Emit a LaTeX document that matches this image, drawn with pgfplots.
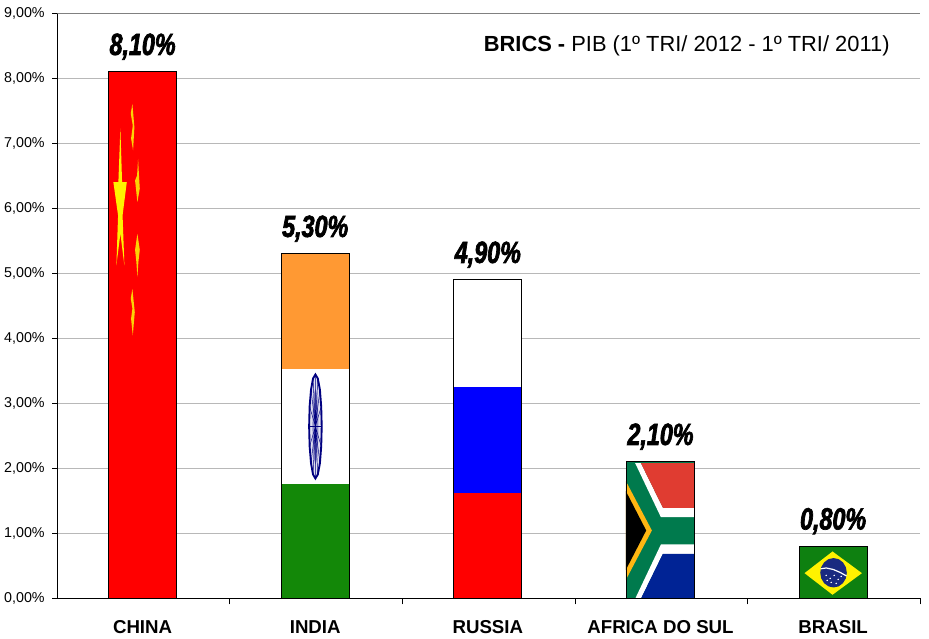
\documentclass[border=0pt]{standalone}
\usepackage{fontspec}
\setmainfont{Liberation Sans}
\newfontfamily\impactfont[FakeStretch=0.76,FakeBold=2.2]{Liberation Sans}
\usepackage{pgfplots}
\pgfplotsset{compat=1.18}
\definecolor{gridc}{HTML}{B8B8B8}
\definecolor{indorange}{HTML}{FF9933}
\definecolor{indgreen}{HTML}{138808}
\definecolor{indnavy}{HTML}{000080}
\definecolor{rusblue}{HTML}{0000FF}
\definecolor{zared}{HTML}{E03C31}
\definecolor{zablue}{HTML}{002395}
\definecolor{zagreen}{HTML}{007A4D}
\definecolor{zagold}{HTML}{FFB612}
\definecolor{brgreen}{HTML}{0E8010}
\definecolor{brnavy}{HTML}{1A2A80}
\pgfplotsset{
  seg/.style={ybar,bar width=51pt,bar shift=0pt,draw=none,fill=#1},
  flag/.style={x filter/.expression={(x-142.5)/172.6},y filter/.expression={(598-y)/65},fill=#1,draw=none},
}
\begin{document}
\begin{tikzpicture}
\path[use as bounding box] (0,0) rectangle (696.75pt,479.25pt);
\begin{axis}[
  at={(42.975pt,30.4pt)},anchor=south west,
  scale only axis,width=647.25pt,height=438.75pt,
  xmin=-0.494,xmax=4.505,ymin=0,ymax=9,
  axis x line*=bottom,axis y line*=left,axis line style={-,black,line width=0.75pt},
  /pgf/number format/assume math mode=true,
  ytick={0,1,...,9},
  yticklabel={\pgfmathprintnumber[fixed,fixed zerofill,precision=2,use comma]{\tick}\%},
  yticklabel style={font=\fontsize{10.7}{12}\selectfont,xshift=-2.2pt},
  ymajorgrids,grid style={gridc,line width=0.75pt},
  tick align=outside,
  ytick style={black,line width=0.7pt},
  major tick length=3.75pt,
  xtick={0,1,2,3,4},
  xticklabels={CHINA,INDIA,RUSSIA,AFRICA DO SUL,BRASIL},
  xticklabel style={font=\fontsize{14}{16}\selectfont\bfseries,yshift=-22.5pt,anchor=base,text height=0pt},
  major x tick style={draw=none},
  minor xtick={0.505,1.505,2.505,3.505,4.505},
  minor x tick style={draw=black,line width=0.7pt},
  minor tick length=4.5pt,
]
% top border line
\addplot[color=gray,line width=0.75pt] coordinates {(-0.494,9)(4.505,9)};

% China
\addplot[seg=red] coordinates {(0,8.1)};
\addplot[flag=yellow] coordinates {(120.3,128)(122,181.7)(126.7,181.7)(122.5,215)(124.3,265)(120.3,233)(116.3,265)(118,215)(113.3,181.7)(118.3,181.7)} -- cycle;
\addplot[flag=yellow!70!orange] coordinates {(132.3,103.3)(134.3,126.7)(133,150)(131,138)(132.7,125)(130.7,113)} -- cycle;
\addplot[flag=yellow!70!orange] coordinates {(138,158.3)(139,176.7)(139.7,188)(137.3,201.7)(135,180)(137,175)} -- cycle;
\addplot[flag=yellow!70!orange] coordinates {(137.3,233.3)(139.7,249.3)(138.3,261.7)(137.3,276.7)(136.3,261.7)(135,249.3)} -- cycle;
\addplot[flag=yellow!70!orange] coordinates {(132.3,288.3)(134.7,311.7)(132.7,335)(131,318.3)(132.3,308)(130.7,298)} -- cycle;

% India
\addplot[seg=indorange] coordinates {(1,5.3)};
\addplot[seg=white] coordinates {(1,3.53)};
\addplot[seg=indgreen] coordinates {(1,1.765)};
\addplot[flag=indnavy!12,draw=indnavy,line width=1.4pt] coordinates {(321.6,426)(321.1,406.1)(319.8,389.2)(317.7,378)(315.3,374)(312.9,378)(310.9,389.2)(309.5,406.1)(309,426)(309.5,445.9)(310.9,462.8)(312.9,474)(315.3,478)(317.7,474)(319.8,462.8)(321.1,445.9)} -- cycle;
\addplot[flag=indnavy!45] coordinates {(318.3,426)(318,410)(317,394)(315.3,388)(313.6,394)(312.6,410)(312.3,426)(312.6,442)(313.6,458)(315.3,464)(317,458)(318,442)} -- cycle;
\addplot[x filter/.expression={(x-142.5)/172.6},y filter/.expression={(598-y)/65},indnavy,line width=0.35pt] coordinates {(315.3,426)(321.1,406.1)(315.3,426)(319.8,389.2)(315.3,426)(317.7,378)(315.3,426)(315.3,374)(315.3,426)(312.9,378)(315.3,426)(310.9,389.2)(315.3,426)(309.5,406.1)(315.3,426)(309.5,445.9)(315.3,426)(310.9,462.8)(315.3,426)(312.9,474)(315.3,426)(315.3,478)(315.3,426)(317.7,474)(315.3,426)(319.8,462.8)(315.3,426)(321.1,445.9)};
\addplot[x filter/.expression={(x-142.5)/172.6},y filter/.expression={(598-y)/65},indnavy,line width=1pt] coordinates {(309.5,426)(321.1,426)};

% Russia
\addplot[seg=white] coordinates {(2,4.9)};
\addplot[seg=rusblue] coordinates {(2,3.26)};
\addplot[seg=red] coordinates {(2,1.63)};

% South Africa
\addplot[seg=zagreen] coordinates {(3,2.1)};
\addplot[flag=white] coordinates {(635,462.7)(640.7,462.7)(662.7,507.3)(694.3,507.3)(694.3,516.7)(660.7,516.7)} -- cycle;
\addplot[flag=white] coordinates {(635,598.3)(640.7,598.3)(662.7,553.3)(694.3,553.3)(694.3,544)(660.7,544)} -- cycle;
\addplot[flag=zared] coordinates {(640.7,462.7)(694.3,462.7)(694.3,507.3)(662.7,507.3)} -- cycle;
\addplot[flag=zablue] coordinates {(640.7,598.3)(662.7,553.3)(694.3,553.3)(694.3,598.3)} -- cycle;
\addplot[flag=zagold] coordinates {(625.7,480.7)(651.7,530)(625.7,579.3)} -- cycle;
\addplot[flag=black] coordinates {(625.7,490.7)(646,530)(625.7,569.3)} -- cycle;

% Brasil
\addplot[seg=brgreen] coordinates {(4,0.8)};
\addplot[flag=yellow] coordinates {(832.3,551)(861.7,572.7)(832.3,594.3)(804.3,572.7)} -- cycle;
\addplot[flag=brnavy] coordinates {(846.6,572.3)(845.6,577.9)(842.7,582.7)(838.4,585.9)(833.3,587)(828.2,585.9)(823.9,582.7)(821,577.9)(820,572.3)(821,566.7)(823.9,561.9)(828.2,558.7)(833.3,557.6)(838.4,558.7)(842.7,561.9)(845.6,566.7)} -- cycle;
\addplot[x filter/.expression={(x-142.5)/172.6},y filter/.expression={(598-y)/65},white,line width=0.9pt] coordinates {(820.5,568.3)(826,567.5)(833,569)(840,572)(846.3,575.5)};
\addplot[x filter/.expression={(x-142.5)/172.6},y filter/.expression={(598-y)/65},only marks,mark=*,mark size=0.3pt,white] coordinates {(826,575)(830,578)(834,575)(838,579)(836,583)(831,582)(827,580)(841,576)};

% Bar outlines and values
\addplot[ybar,bar width=51pt,bar shift=0pt,draw=black,line width=0.75pt,fill=none,
  nodes near coords={\pgfmathprintnumber[fixed,fixed zerofill,precision=2,use comma]{\pgfplotspointmeta}\%},
  every node near coord/.append style={font=\fontsize{23}{26}\selectfont\impactfont\bfseries\itshape,black,anchor=south,yshift=5.5pt},
] coordinates {(0,8.1)(1,5.3)(2,4.9)(3,2.1)(4,0.8)};

\node[font=\fontsize{16.4}{18}\selectfont,anchor=center] at (axis cs:3.152,8.50) {\textbf{BRICS - }PIB (1º TRI/ 2012 - 1º TRI/ 2011)};
\end{axis}
\end{tikzpicture}
\end{document}
